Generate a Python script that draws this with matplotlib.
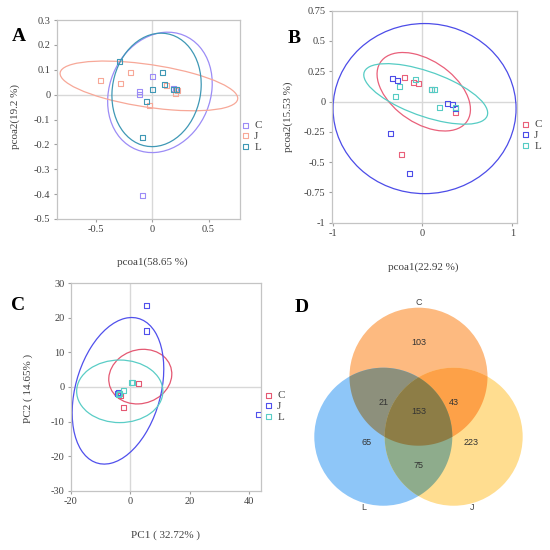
import numpy as np
import matplotlib
matplotlib.use('Agg')
from matplotlib import pyplot as plt
from matplotlib import transforms
from matplotlib.colors import to_rgb
from matplotlib.patches import Ellipse, Circle, Polygon
from matplotlib.ticker import FuncFormatter

plt.rcParams['font.family'] = 'Liberation Serif'
plt.rcParams['axes.unicode_minus'] = False

groups = ['C', 'J', 'L']

# panel A  (PCoA, pcoa1 58.65 %, pcoa2 19.2 %)
a_c_x = [0.0, -0.11, -0.11, 0.19, 0.21, -0.09]
a_c_y = [0.072, 0.012, 0.002, 0.023, 0.02, -0.406]
a_j_x = [-0.46, -0.19, -0.28, -0.025, 0.13, 0.21, 0.22]
a_j_y = [0.055, 0.088, 0.043, -0.045, 0.035, 0.005, 0.015]
a_l_x = [-0.29, 0.09, 0.0, 0.11, -0.048, -0.09, 0.19, 0.215]
a_l_y = [0.134, 0.09, 0.022, 0.039, -0.029, -0.172, 0.022, 0.02]
# ellipses: centre x, centre y, half width, half height, correlation
a_ell_c = [0.068, 0.009, 0.465, 0.242, 0.15]
a_ell_j = [-0.03, 0.035, 0.79, 0.10, -0.5]
a_ell_l = [0.038, 0.019, 0.397, 0.228, 0.1]

# panel B  (PCoA, pcoa1 22.92 %, pcoa2 15.53 %)
b_c_x = [-0.197, -0.096, -0.04, 0.096, 0.371, -0.23]
b_c_y = [0.201, 0.154, 0.146, 0.099, -0.088, -0.435]
b_j_x = [-0.33, -0.282, 0.282, 0.338, 0.371, -0.36, -0.141]
b_j_y = [0.19, 0.174, -0.019, -0.028, -0.058, -0.267, -0.595]
b_l_x = [-0.078, -0.25, -0.3, 0.137, 0.193, 0.371, 0.10]
b_l_y = [0.182, 0.127, 0.041, 0.099, -0.05, -0.045, 0.099]
b_ell_c = [0.015, 0.081, 0.52, 0.324, -0.45]
b_ell_j = [0.024, -0.058, 1.019, 0.702, 0.0]
b_ell_l = [0.037, 0.063, 0.69, 0.25, -0.63]

# panel C  (PCA, PC1 32.72 %, PC2 14.65 %)
c_c_x = [2.9, -3.4, -2.4, -4.0]
c_c_y = [1.0, -2.6, -5.8, -2.0]
c_j_x = [5.4, 5.4, 43.0, -4.2, -3.8]
c_j_y = [23.6, 16.2, -7.9, -2.0, -1.6]
c_l_x = [0.6, 0.8, -2.4, -3.6, -4.0]
c_l_y = [1.3, 1.4, -1.1, -1.8, -2.2]
c_ell_c = [3.4, 3.0, 10.6, 7.9, 0.1]
c_ell_j = [-4.1, -1.1, 15.4, 21.2, 0.3]
c_ell_l = [-3.5, -1.25, 14.5, 9.05, 0.0]

# panel D  (Venn)
venn_regions = ['C', 'CL', 'CJ', 'CJL', 'L', 'J', 'JL']
venn_counts = [103, 21, 43, 153, 65, 223, 75]

cols_a = {'C': '#9C8CF6', 'J': '#F7A898', 'L': '#3F98B5'}
cols_b = {'C': '#E9607A', 'J': '#4C4CE8', 'L': '#56CCC4'}
cols_c = {'C': '#E45872', 'J': '#5050EC', 'L': '#5ACDC6'}
venn_cols = {'C': '#FDBA80', 'L': '#8EC6F8', 'J': '#FFDD90'}

fig = plt.figure(figsize=(5.5, 5.5), dpi=100)


def fmt(v, pos):
    return '%g' % (round(v, 6) + 0.0)


def draw_ellipse(ax, prm, color):
    cx, cy, hx, hy, rho = prm
    ell = Ellipse((0, 0), width=2 * np.sqrt(1 + rho), height=2 * np.sqrt(1 - rho),
                  facecolor='none', edgecolor=color, lw=0.9)
    tr = transforms.Affine2D().rotate_deg(45).scale(hx, hy).translate(cx, cy)
    ell.set_transform(tr + ax.transData)
    ax.add_patch(ell)


def scatter_panel(rect, pts, ells, cols, xlim, ylim, xticks, yticks,
                  xlab, ylab, xlab_pos, ylab_pos, leg_pos):
    ax = fig.add_axes(rect)
    ax.axhline(0, color='#D8D8D8', lw=1, zorder=0)
    ax.axvline(0, color='#D8D8D8', lw=1, zorder=0)
    for g in groups:
        draw_ellipse(ax, ells[g], cols[g])
    for g in groups:
        ax.scatter(pts[g][0], pts[g][1], marker='s', s=13, facecolors='none',
                   edgecolors=cols[g], linewidths=0.8, label=g, zorder=3)
    ax.set_xlim(*xlim)
    ax.set_ylim(*ylim)
    ax.set_xticks(xticks)
    ax.set_yticks(np.round(yticks, 4))
    ax.xaxis.set_major_formatter(FuncFormatter(fmt))
    ax.yaxis.set_major_formatter(FuncFormatter(fmt))
    for s in ax.spines.values():
        s.set_color('#C4C4C4')
        s.set_linewidth(0.9)
    ax.tick_params(length=2.5, width=0.8, color='#A0A0A0', labelsize=7.5,
                   labelcolor='#404040', pad=2)
    ax.set_xlabel(xlab, fontsize=8, color='#404040', va='center')
    ax.set_ylabel(ylab, fontsize=8, color='#404040', va='center')
    ax.xaxis.set_label_coords(*xlab_pos)
    ax.yaxis.set_label_coords(*ylab_pos)
    ax.legend(loc='center left', bbox_to_anchor=leg_pos, bbox_transform=fig.transFigure,
              frameon=False, fontsize=8, handlelength=0.6, handletextpad=0.5,
              labelspacing=0.1, borderpad=0, borderaxespad=0,
              labelcolor='#404040')
    return ax


scatter_panel([56.7 / 550, 1 - 219 / 550, 183.3 / 550, 199 / 550],
              {'C': (a_c_x, a_c_y), 'J': (a_j_x, a_j_y), 'L': (a_l_x, a_l_y)},
              {'C': a_ell_c, 'J': a_ell_j, 'L': a_ell_l}, cols_a,
              (-0.85, 0.78), (-0.5, 0.3), [-0.5, 0, 0.5], np.arange(-0.5, 0.31, 0.1),
              'pcoa1(58.65 %)', 'pcoa2(19.2 %)', (0.52, -0.216), (-0.2275, 0.513),
              (242 / 550, 1 - 136 / 550))

scatter_panel([331.7 / 550, 1 - 222.7 / 550, 185 / 550, 212 / 550],
              {'C': (b_c_x, b_c_y), 'J': (b_j_x, b_j_y), 'L': (b_l_x, b_l_y)},
              {'C': b_ell_c, 'J': b_ell_j, 'L': b_ell_l}, cols_b,
              (-1.01, 1.05), (-1, 0.75), [-1, 0, 1], np.arange(-1, 0.76, 0.25),
              'pcoa1(22.92 %)', 'pcoa2(15.53 %)', (0.494, -0.209), (-0.236, 0.499),
              (522 / 550, 1 - 135 / 550))

scatter_panel([70.7 / 550, 1 - 490.7 / 550, 190.3 / 550, 207.4 / 550],
              {'C': (c_c_x, c_c_y), 'J': (c_j_x, c_j_y), 'L': (c_l_x, c_l_y)},
              {'C': c_ell_c, 'J': c_ell_j, 'L': c_ell_l}, cols_c,
              (-20, 44), (-30, 30), [-20, 0, 20, 40], np.arange(-30, 31, 10),
              'PC1 ( 32.72% )', 'PC2 ( 14.65% )', (0.5, -0.2136), (-0.224, 0.495),
              (265 / 550, 1 - 406 / 550))

# Venn diagram
axd = fig.add_axes([280 / 550, 5 / 550, 270 / 550, 265 / 550])
axd.set_xlim(-2.007, 1.906)
axd.set_ylim(-1.859, 1.981)
axd.axis('off')

centres = {'C': (0, 0.58), 'L': (-0.51, -0.29), 'J': (0.51, -0.29)}


def region(keys):
    t = np.linspace(0, 2 * np.pi, 720, endpoint=False)
    pts = []
    for k in keys:
        x0, y0 = centres[k]
        p = np.column_stack([x0 + np.cos(t), y0 + np.sin(t)])
        ok = np.ones(len(p), bool)
        for k2 in keys:
            x1, y1 = centres[k2]
            ok &= (p[:, 0] - x1) ** 2 + (p[:, 1] - y1) ** 2 <= 1 + 1e-9
        pts.append(p[ok])
    pts = np.vstack(pts)
    m = pts.mean(0)
    order = np.argsort(np.arctan2(pts[:, 1] - m[1], pts[:, 0] - m[0]))
    return pts[order]


def mult(keys):
    c = np.ones(3)
    for k in keys:
        c = c * np.array(to_rgb(venn_cols[k]))
    return c


for k in ['C', 'L', 'J']:
    axd.add_patch(Circle(centres[k], 1, facecolor=venn_cols[k], edgecolor='none'))
for keys in ['CL', 'CJ', 'JL', 'CJL']:
    axd.add_patch(Polygon(region(keys), closed=True, facecolor=mult(keys),
                          edgecolor='none'))

count_pos = {'C': (0, 1.08), 'CL': (-0.5, 0.21), 'CJ': (0.51, 0.21), 'CJL': (0, 0.07),
             'L': (-0.75, -0.37), 'J': (0.76, -0.37), 'JL': (0, -0.71)}
for reg, n in zip(venn_regions, venn_counts):
    axd.text(*count_pos[reg], str(n), ha='center', va='center', fontsize=6.5,
             family='Liberation Sans', color='#333333')
name_pos = {'C': (0, 1.66), 'L': (-0.79, -1.31), 'J': (0.78, -1.31)}
for g in groups:
    axd.text(*name_pos[g], g, ha='center', va='center', fontsize=6.5,
             family='Liberation Sans', color='#444444')

# panel letters
for lab, (px, py) in zip('ABCD', [(18.5, 36.5), (294.5, 38.5), (18.5, 305.5), (302, 307.5)]):
    fig.text(px / 550, 1 - py / 550, lab, fontsize=14, fontweight='bold',
             ha='center', va='center')

fig.savefig('out.png', dpi=100)
